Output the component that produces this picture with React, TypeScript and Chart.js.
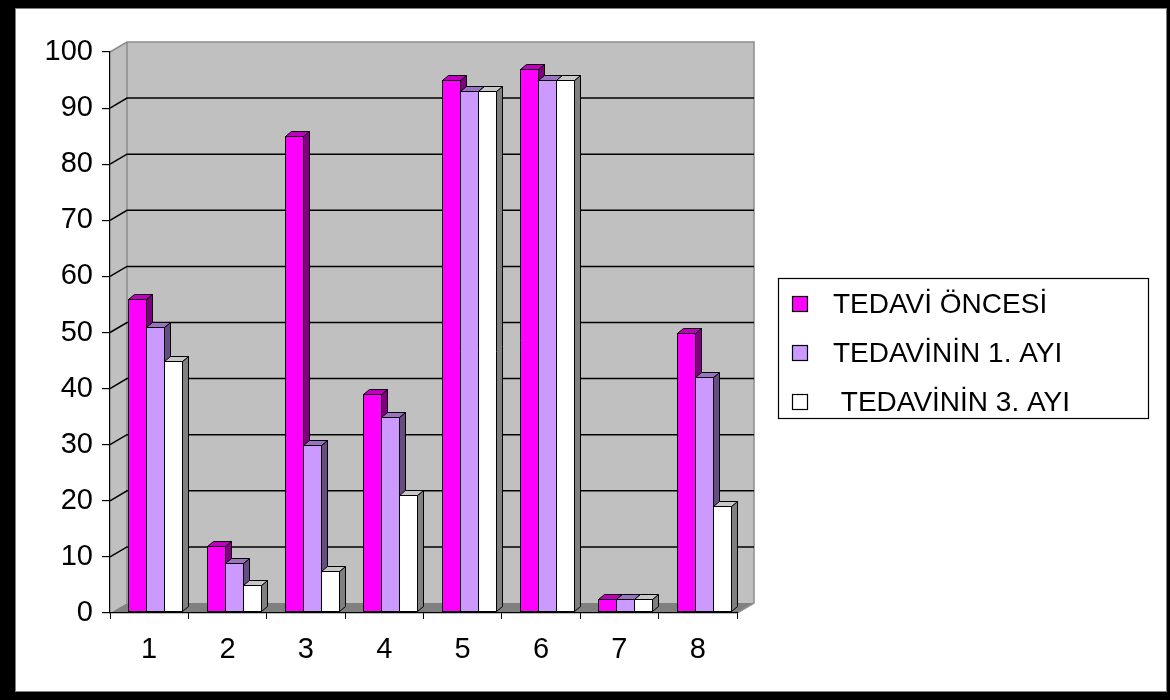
import React, { useEffect, useRef } from 'react';
import { Chart, registerables } from 'chart.js';

Chart.register(...registerables);

// ---- data ----
const categories = ['1', '2', '3', '4', '5', '6', '7', '8'];
const seriesLabels = ['TEDAVİ ÖNCESİ', 'TEDAVİNİN 1. AYI', ' TEDAVİNİN 3. AYI'];
const beforeTreatment = [56, 12, 85, 39, 95, 97, 2.5, 50];
const firstMonth = [51, 9, 30, 35, 93, 95, 2.5, 42];
const thirdMonth = [45, 5, 7.5, 21, 93, 95, 2.5, 19];
const yMin = 0;
const yMax = 100;
const yStep = 10;

// ---- colours: front, top and side faces of each series ----
const frontColors = ['#ff00ff', '#cc99ff', '#ffffff'];
const topColors = ['#bf00bf', '#9973bf', '#c8c8c8'];
const sideColors = ['#800080', '#664d80', '#808080'];

const FONT = 'Arial, "Liberation Sans", sans-serif';

// wall depth (back wall offset) and bar depth
const WALL_DX = 17;
const WALL_DY = -10;
const BAR_DX = 6;
const BAR_DY = -5;
const BAR_SHIFT = 6;

function poly(ctx: CanvasRenderingContext2D, pts: number[][]) {
  ctx.beginPath();
  ctx.moveTo(pts[0][0], pts[0][1]);
  for (let i = 1; i < pts.length; i++) ctx.lineTo(pts[i][0], pts[i][1]);
  ctx.closePath();
}

const excel3dPlugin = {
  id: 'excel3d',
  beforeDraw(chart: any) {
    const { ctx, width, height, chartArea: a, scales } = chart;
    const ys = scales.y;
    ctx.save();
    // outer frame
    ctx.fillStyle = '#000';
    ctx.fillRect(0, 0, width, height);
    ctx.fillStyle = '#808080';
    ctx.fillRect(15, 8, width - 18, height - 16);
    ctx.fillStyle = '#fff';
    ctx.fillRect(16, 9, width - 20, height - 18);

    const top = ys.getPixelForValue(yMax);
    const bottom = ys.getPixelForValue(yMin);
    const bx0 = a.left + WALL_DX;
    const bx1 = a.right + WALL_DX;
    const by0 = top + WALL_DY;
    const by1 = bottom + WALL_DY;

    // side wall
    ctx.fillStyle = '#c0c0c0';
    poly(ctx, [[a.left, top], [bx0, by0], [bx0, by1], [a.left, bottom]]);
    ctx.fill();
    // back wall
    ctx.fillRect(bx0, by0, bx1 - bx0, by1 - by0);
    // floor
    ctx.fillStyle = '#808080';
    poly(ctx, [[a.left, bottom], [a.right, bottom], [bx1, by1], [bx0, by1]]);
    ctx.fill();

    // wall edges
    ctx.strokeStyle = '#8c8c8c';
    ctx.lineWidth = 1.5;
    ctx.beginPath();
    ctx.moveTo(a.left, top);
    ctx.lineTo(bx0, by0);
    ctx.lineTo(bx1, by0);
    ctx.lineTo(bx1, by1);
    ctx.lineTo(a.right, bottom);
    ctx.moveTo(bx0, by0);
    ctx.lineTo(bx0, by1);
    ctx.stroke();

    // gridlines on the side and back walls
    ctx.strokeStyle = '#000';
    ctx.lineWidth = 1.5;
    ctx.beginPath();
    for (const t of ys.ticks) {
      if (t.value <= yMin || t.value >= yMax) continue;
      const py = ys.getPixelForValue(t.value);
      ctx.moveTo(a.left, py);
      ctx.lineTo(bx0, py + WALL_DY);
      ctx.lineTo(bx1, py + WALL_DY);
    }
    ctx.stroke();
    ctx.restore();
  },
  beforeDatasetsDraw(chart: any) {
    const { ctx } = chart;
    ctx.save();
    ctx.lineWidth = 1;
    ctx.strokeStyle = '#000';
    ctx.lineJoin = 'miter';
    for (let d = 0; d < chart.data.datasets.length; d++) {
      const meta = chart.getDatasetMeta(d);
      meta.data.forEach((el: any) => {
        const { x, y, base, width } = el.getProps(['x', 'y', 'base', 'width'], true);
        const l = Math.round(x - width / 2) + BAR_SHIFT + 0.5;
        const r = Math.round(x + width / 2) + BAR_SHIFT + 0.5;
        const t = Math.round(y) + 0.5;
        const b = Math.round(base) - 0.5;
        // side face
        ctx.fillStyle = sideColors[d];
        poly(ctx, [[r, t], [r + BAR_DX, t + BAR_DY], [r + BAR_DX, b + BAR_DY], [r, b]]);
        ctx.fill();
        ctx.stroke();
        // top face
        ctx.fillStyle = topColors[d];
        poly(ctx, [[l, t], [l + BAR_DX, t + BAR_DY], [r + BAR_DX, t + BAR_DY], [r, t]]);
        ctx.fill();
        ctx.stroke();
        // front face
        ctx.fillStyle = frontColors[d];
        ctx.beginPath();
        ctx.rect(l, t, r - l, b - t);
        ctx.fill();
        ctx.stroke();
      });
    }
    ctx.restore();
    return false;
  },
  afterDraw(chart: any) {
    const { ctx } = chart;
    const lx = 778.5;
    const ly = 278.5;
    const lw = 370;
    const lh = 140;
    ctx.save();
    ctx.fillStyle = '#fff';
    ctx.fillRect(lx, ly, lw, lh);
    ctx.strokeStyle = '#000';
    ctx.lineWidth = 1.2;
    ctx.strokeRect(lx, ly, lw, lh);
    ctx.font = `28px ${FONT}`;
    ctx.textBaseline = 'middle';
    ctx.textAlign = 'left';
    chart.data.datasets.forEach((ds: any, i: number) => {
      const cy = 304 + i * 49;
      ctx.fillStyle = frontColors[i];
      ctx.fillRect(792.5, cy - 7.5, 15, 15);
      ctx.lineWidth = 1.2;
      ctx.strokeRect(792.5, cy - 7.5, 15, 15);
      ctx.fillStyle = '#000';
      ctx.fillText(ds.label, 833, cy + 1);
    });
    ctx.restore();
  },
};

export default function App() {
  const canvasRef = useRef<HTMLCanvasElement | null>(null);

  useEffect(() => {
    const canvas = canvasRef.current;
    if (!canvas) return;
    const seriesValues = [beforeTreatment, firstMonth, thirdMonth];
    const chart = new Chart(canvas, {
      type: 'bar',
      data: {
        labels: categories,
        datasets: seriesValues.map((vals, i) => ({
          label: seriesLabels[i],
          data: vals,
          backgroundColor: frontColors[i],
          borderColor: '#000',
          borderWidth: 1,
          categoryPercentage: 0.69,
          barPercentage: 1.0,
          clip: false as any,
        })),
      },
      options: {
        responsive: false,
        animation: false,
        events: [],
        layout: { padding: { left: 0, top: 52, right: 433, bottom: 0 } },
        plugins: {
          legend: { display: false },
          tooltip: { enabled: false },
        },
        scales: {
          x: {
            ticks: { font: { family: FONT, size: 29 }, color: '#000', padding: 14 },
            grid: { drawOnChartArea: false, offset: true, tickLength: 6, color: '#000', lineWidth: 1 },
            border: { display: true, color: '#000', width: 1.2 },
            afterFit: (s: any) => {
              s.height = 87;
            },
          },
          y: {
            min: yMin,
            max: yMax,
            ticks: { stepSize: yStep, font: { family: FONT, size: 29 }, color: '#000', padding: 9 },
            grid: { drawOnChartArea: false, tickLength: 8, color: '#000', lineWidth: 1.2 },
            border: { display: true, color: '#000', width: 1.2 },
            afterFit: (s: any) => {
              s.width = 110;
            },
          },
        },
      },
      plugins: [excel3dPlugin],
    });
    return () => chart.destroy();
  }, []);

  return (
    <div style={{ position: 'absolute', left: 0, top: 0, width: 1170, height: 700 }}>
      <canvas ref={canvasRef} width={1170} height={700} style={{ display: 'block' }} />
    </div>
  );
}
